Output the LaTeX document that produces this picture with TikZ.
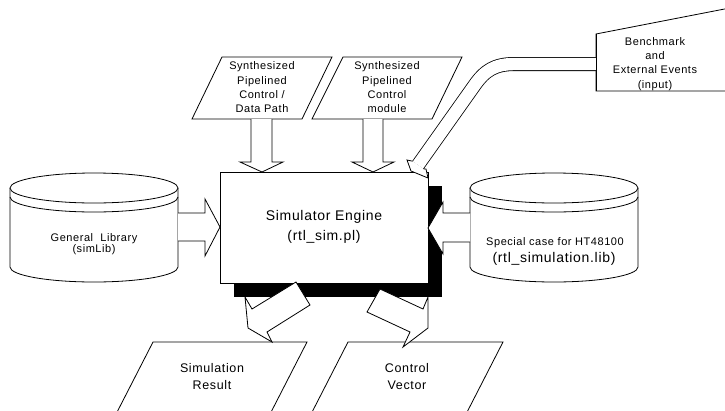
\documentclass[tikz,border=0pt]{standalone}
\usepackage{fontspec}
\setmainfont{Liberation Sans}[LetterSpace=5]
\begin{document}
\begin{tikzpicture}[x=1pt,y=-1pt,line width=0.8pt,line join=miter,
  solid shape/.style={draw=black,fill=white},
  small txt/.style={font=\fontsize{11}{14.3}\selectfont,align=center,inner sep=0pt},
  mid txt/.style={font=\fontsize{12.5}{17}\selectfont,align=center,inner sep=0pt},
  big txt/.style={font=\fontsize{14}{20}\selectfont,align=center,inner sep=0pt}]
\useasboundingbox (0,0) rectangle (725,410);
\begin{scope}
\clip (0,0) rectangle (725,410);

% input parallelograms at the top
\draw[solid shape] (222,57) -- (332,57) -- (302,119) -- (192,119) -- cycle;
\node[small txt] (ctrldp) at (262,87.5) {Synthesized\\Pipelined\\Control /\\Data Path};
\draw[solid shape] (343,57) -- (462,57) -- (432,119) -- (312,119) -- cycle;
\node[small txt] (ctrlmod) at (387,87.5) {Synthesized\\Pipelined\\Control\\module};

% manual input: benchmark
\draw[solid shape] (596,34) -- (740,6) -- (740,91) -- (596,91) -- cycle;
\node[small txt] (bench) at (655,64) {Benchmark\\and\\External Events\\(input)};

% simulator engine with drop shadow
\fill[black] (234,186) rectangle (442,297);
\draw[solid shape] (220,172) rectangle (428,283);

% general library cylinder
\draw[solid shape] (10,188) -- (10,267) arc[start angle=180,end angle=0,x radius=84,y radius=15] -- (178,188);
\draw[solid shape] (94,188) ellipse[x radius=84,y radius=15];
\draw (10,197) arc[start angle=180,end angle=0,x radius=84,y radius=15];
\node[small txt] (genlib) at (94,239) {General\ \ Library};
\node[small txt] (simlib) at (94,250) {(simLib)};

% special case library cylinder
\draw[solid shape] (470,188) -- (470,267) arc[start angle=180,end angle=0,x radius=84,y radius=15] -- (638,188);
\draw[solid shape] (554,188) ellipse[x radius=84,y radius=15];
\draw (470,197) arc[start angle=180,end angle=0,x radius=84,y radius=15];
\node[small txt] (special) at (555,243) {Special case for HT48100};
\node[big txt] (rtllib) at (554,259) {(rtl\_simulation.lib)};

% output parallelograms
\draw[solid shape] (153,342) -- (307,342) -- (267,420) -- (113,420) -- cycle;
\node[mid txt] (simres) at (212,376.5) {Simulation\\Result};
\draw[solid shape] (348,342) -- (503,342) -- (463,420) -- (308,420) -- cycle;
\node[mid txt] (ctrlvec) at (407,376.5) {Control\\Vector};

% block arrows into the engine
\draw[solid shape] (251,119) -- (251,162) -- (240,162) -- (262,172) -- (283,162) -- (272,162) -- (272,119);
\draw[solid shape] (363,119) -- (363,162) -- (352,162) -- (373,172) -- (394,162) -- (383,162) -- (383,119);
\draw[solid shape] (178,213) -- (205,213) -- (205,199) -- (220,227) -- (205,256) -- (205,241) -- (178,241);
\draw[solid shape] (470,213) -- (443,213) -- (443,202) -- (428,228) -- (443,254) -- (443,242) -- (470,242);

% block arrows out of the engine
\draw[solid shape] (296,282) -- (310,305) -- (267,332) -- (272,342) -- (248,328) -- (245,297) -- (252,309) -- cycle;
\draw[solid shape] (380,289) -- (423,309) -- (428,297) -- (428,328) -- (403,347) -- (410,332) -- (367,312) -- cycle;

% curved arrow from the benchmark
\draw[line width=0.8pt,double=white,double distance=12.4pt]
  (596,64) -- (515,64) .. controls (495,64) and (485,70) .. (474,86) -- (418,165);
\draw[solid shape] (412.6,161.2) -- (407,160) -- (411,171) -- (428,178) -- (426,169) -- (423.4,168.8);
\draw (596,34) -- (596,91);

% engine label
\node[big txt] (engine) at (324,227) {Simulator Engine\\(rtl\_sim.pl)};
\end{scope}
\end{tikzpicture}
\end{document}
